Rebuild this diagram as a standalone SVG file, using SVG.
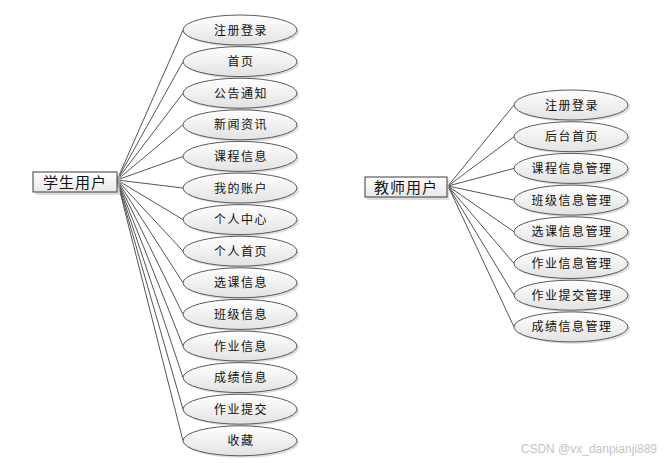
<svg xmlns="http://www.w3.org/2000/svg" width="667" height="463" viewBox="0 0 667 463">
<defs>
<linearGradient id="g" x1="0" y1="0" x2="0" y2="1">
<stop offset="0" stop-color="#ffffff"/>
<stop offset="1" stop-color="#e2e2e2"/>
</linearGradient>
<linearGradient id="gb" x1="0" y1="0" x2="0" y2="1">
<stop offset="0" stop-color="#ffffff"/>
<stop offset="1" stop-color="#e8e8e8"/>
</linearGradient>
</defs>
<style>
.e{fill:url(#g);stroke:#5a5a5a;stroke-width:1}
.s{fill:#c8c8c8;opacity:0.6}
.b{fill:url(#gb);stroke:#3a3a3a;stroke-width:1}
.t{font-family:"Noto Sans CJK SC","Liberation Sans",sans-serif;font-size:12px;fill:#111;text-anchor:middle;letter-spacing:1.5px}
.bt{font-family:"Noto Sans CJK SC","Liberation Sans",sans-serif;font-size:15px;fill:#111;text-anchor:middle;letter-spacing:1px}
.c line{stroke:#555;stroke-width:1}
</style>
<rect width="667" height="463" fill="#fff"/>
<g class="c" id="connectors">
<line x1="117" y1="180" x2="183" y2="30"/>
<line x1="117" y1="180" x2="183" y2="61.6"/>
<line x1="117" y1="180" x2="183" y2="93.2"/>
<line x1="117" y1="180" x2="183" y2="124.8"/>
<line x1="117" y1="180" x2="183" y2="156.4"/>
<line x1="117" y1="180" x2="183" y2="188"/>
<line x1="117" y1="180" x2="183" y2="219.6"/>
<line x1="117" y1="180" x2="183" y2="251.2"/>
<line x1="117" y1="180" x2="183" y2="282.8"/>
<line x1="117" y1="180" x2="183" y2="314.4"/>
<line x1="117" y1="180" x2="183" y2="346"/>
<line x1="117" y1="180" x2="183" y2="377.6"/>
<line x1="117" y1="180" x2="183" y2="409.2"/>
<line x1="117" y1="180" x2="183" y2="440.8"/>
<line x1="448" y1="186" x2="514" y2="105"/>
<line x1="448" y1="186" x2="514" y2="136.7"/>
<line x1="448" y1="186" x2="514" y2="168.4"/>
<line x1="448" y1="186" x2="514" y2="200.1"/>
<line x1="448" y1="186" x2="514" y2="231.8"/>
<line x1="448" y1="186" x2="514" y2="263.5"/>
<line x1="448" y1="186" x2="514" y2="295.2"/>
<line x1="448" y1="186" x2="514" y2="326.9"/>
</g>
<g id="student">
<rect class="s" x="36" y="175" width="84" height="20"/>
<rect class="b" x="33" y="172" width="84" height="20"/>
<text class="bt" x="75" y="187.5">学生用户</text>
</g>
<g id="teacher">
<rect class="s" x="367" y="180" width="82" height="20"/>
<rect class="b" x="365" y="177" width="82" height="20"/>
<text class="bt" x="406" y="192.5">教师用户</text>
</g>
<g id="s1"><ellipse class="s" cx="242" cy="32" rx="57" ry="15"/><ellipse class="e" cx="240" cy="30" rx="57" ry="15"/><text class="t" x="241" y="34.5">注册登录</text></g>
<g id="s2"><ellipse class="s" cx="242" cy="63.6" rx="57" ry="15"/><ellipse class="e" cx="240" cy="61.6" rx="57" ry="15"/><text class="t" x="241" y="66.1">首页</text></g>
<g id="s3"><ellipse class="s" cx="242" cy="95.2" rx="57" ry="15"/><ellipse class="e" cx="240" cy="93.2" rx="57" ry="15"/><text class="t" x="241" y="97.7">公告通知</text></g>
<g id="s4"><ellipse class="s" cx="242" cy="126.8" rx="57" ry="15"/><ellipse class="e" cx="240" cy="124.8" rx="57" ry="15"/><text class="t" x="241" y="129.3">新闻资讯</text></g>
<g id="s5"><ellipse class="s" cx="242" cy="158.4" rx="57" ry="15"/><ellipse class="e" cx="240" cy="156.4" rx="57" ry="15"/><text class="t" x="241" y="160.9">课程信息</text></g>
<g id="s6"><ellipse class="s" cx="242" cy="190" rx="57" ry="15"/><ellipse class="e" cx="240" cy="188" rx="57" ry="15"/><text class="t" x="241" y="192.5">我的账户</text></g>
<g id="s7"><ellipse class="s" cx="242" cy="221.6" rx="57" ry="15"/><ellipse class="e" cx="240" cy="219.6" rx="57" ry="15"/><text class="t" x="241" y="224.1">个人中心</text></g>
<g id="s8"><ellipse class="s" cx="242" cy="253.2" rx="57" ry="15"/><ellipse class="e" cx="240" cy="251.2" rx="57" ry="15"/><text class="t" x="241" y="255.7">个人首页</text></g>
<g id="s9"><ellipse class="s" cx="242" cy="284.8" rx="57" ry="15"/><ellipse class="e" cx="240" cy="282.8" rx="57" ry="15"/><text class="t" x="241" y="287.3">选课信息</text></g>
<g id="s10"><ellipse class="s" cx="242" cy="316.4" rx="57" ry="15"/><ellipse class="e" cx="240" cy="314.4" rx="57" ry="15"/><text class="t" x="241" y="318.9">班级信息</text></g>
<g id="s11"><ellipse class="s" cx="242" cy="348" rx="57" ry="15"/><ellipse class="e" cx="240" cy="346" rx="57" ry="15"/><text class="t" x="241" y="350.5">作业信息</text></g>
<g id="s12"><ellipse class="s" cx="242" cy="379.6" rx="57" ry="15"/><ellipse class="e" cx="240" cy="377.6" rx="57" ry="15"/><text class="t" x="241" y="382.1">成绩信息</text></g>
<g id="s13"><ellipse class="s" cx="242" cy="411.2" rx="57" ry="15"/><ellipse class="e" cx="240" cy="409.2" rx="57" ry="15"/><text class="t" x="241" y="413.7">作业提交</text></g>
<g id="s14"><ellipse class="s" cx="242" cy="442.8" rx="57" ry="15"/><ellipse class="e" cx="240" cy="440.8" rx="57" ry="15"/><text class="t" x="241" y="445.3">收藏</text></g>
<g id="t1"><ellipse class="s" cx="573" cy="107" rx="57" ry="15"/><ellipse class="e" cx="571" cy="105" rx="57" ry="15"/><text class="t" x="572" y="109.5">注册登录</text></g>
<g id="t2"><ellipse class="s" cx="573" cy="138.7" rx="57" ry="15"/><ellipse class="e" cx="571" cy="136.7" rx="57" ry="15"/><text class="t" x="572" y="141.2">后台首页</text></g>
<g id="t3"><ellipse class="s" cx="573" cy="170.4" rx="57" ry="15"/><ellipse class="e" cx="571" cy="168.4" rx="57" ry="15"/><text class="t" x="572" y="172.9">课程信息管理</text></g>
<g id="t4"><ellipse class="s" cx="573" cy="202.1" rx="57" ry="15"/><ellipse class="e" cx="571" cy="200.1" rx="57" ry="15"/><text class="t" x="572" y="204.6">班级信息管理</text></g>
<g id="t5"><ellipse class="s" cx="573" cy="233.8" rx="57" ry="15"/><ellipse class="e" cx="571" cy="231.8" rx="57" ry="15"/><text class="t" x="572" y="236.3">选课信息管理</text></g>
<g id="t6"><ellipse class="s" cx="573" cy="265.5" rx="57" ry="15"/><ellipse class="e" cx="571" cy="263.5" rx="57" ry="15"/><text class="t" x="572" y="268">作业信息管理</text></g>
<g id="t7"><ellipse class="s" cx="573" cy="297.2" rx="57" ry="15"/><ellipse class="e" cx="571" cy="295.2" rx="57" ry="15"/><text class="t" x="572" y="299.7">作业提交管理</text></g>
<g id="t8"><ellipse class="s" cx="573" cy="328.9" rx="57" ry="15"/><ellipse class="e" cx="571" cy="326.9" rx="57" ry="15"/><text class="t" x="572" y="331.4">成绩信息管理</text></g>
<text x="657" y="453" font-family="'Liberation Sans',sans-serif" font-size="12" fill="#c4c4c4" text-anchor="end">CSDN @vx_danpianji889</text>
</svg>
